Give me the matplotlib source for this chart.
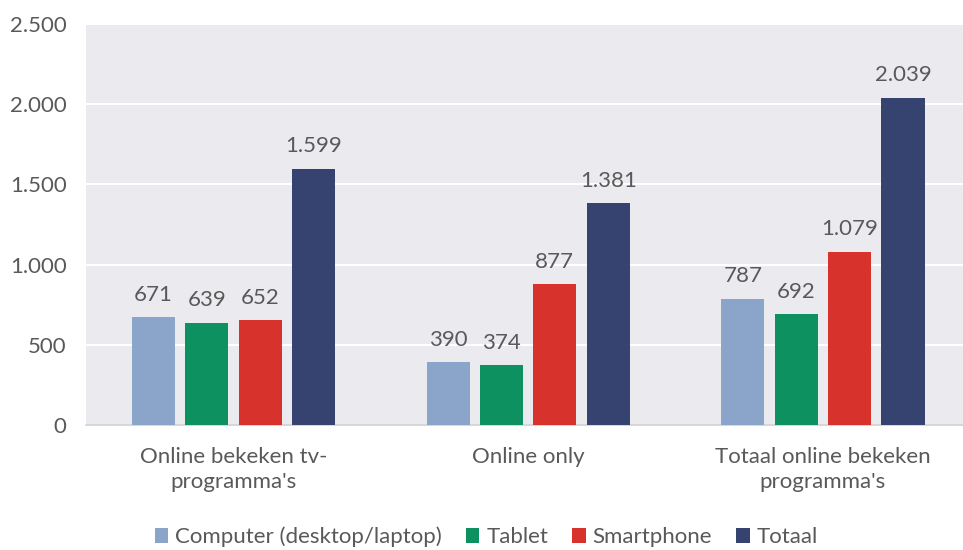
import numpy as np
import matplotlib.pyplot as plt

# =========================
# Data
# =========================
categories = ["Online bekeken tv-\nprogramma's", "Online only", "Totaal online bekeken\nprogramma's"]
series_names = ["Computer (desktop/laptop)", "Tablet", "Smartphone", "Totaal"]
computer = [671, 390, 787]
tablet = [639, 374, 692]
smartphone = [652, 877, 1079]
totaal = [1599, 1381, 2039]
yticks = [0, 500, 1000, 1500, 2000, 2500]
ytick_labels = ["0", "500", "1.000", "1.500", "2.000", "2.500"]

colors = ["#8AA5C9", "#0E9160", "#D8322C", "#364270"]
text_color = "#595959"

plt.rcParams["font.family"] = ["Lato", "DejaVu Sans"]

# =========================
# Figure
# =========================
fig = plt.figure(figsize=(9.63, 5.5), dpi=100)
ax = fig.add_axes([86 / 963, (550 - 425) / 550, (963 - 86) / 963, 401 / 550])
ax.set_facecolor("#EBEBEF")

x = np.arange(len(categories))
width = 0.146
step = 0.181
all_series = [computer, tablet, smartphone, totaal]

for i, (name, vals) in enumerate(zip(series_names, all_series)):
    pos = x + (i - 1.5) * step
    bars = ax.bar(pos, vals, width=width, color=colors[i], label=name, zorder=3)
    for b, v in zip(bars, vals):
        lbl = f"{v:,}".replace(",", ".")
        ax.annotate(lbl, (b.get_x() + b.get_width() / 2, v), xytext=(0, 9),
                    textcoords="offset points", ha="center", va="bottom",
                    fontsize=16, color=text_color)

ax.set_xlim(-0.5, 2.475)
ax.set_ylim(0, 2500)
ax.set_yticks(yticks)
ax.set_yticklabels(ytick_labels)
ax.yaxis.grid(True, color="white", linewidth=1.5, zorder=0)
ax.set_axisbelow(True)

ax.set_xticks(x)
ax.set_xticklabels(categories, linespacing=1.3)
ax.tick_params(axis="both", length=0, labelsize=16, labelcolor=text_color)
ax.tick_params(axis="y", pad=14)
ax.tick_params(axis="x", pad=16)

for s in ["top", "right", "left"]:
    ax.spines[s].set_visible(False)
ax.spines["bottom"].set_color("#D0D0D0")
ax.spines["bottom"].set_linewidth(1.2)

leg = fig.legend(loc="center", bbox_to_anchor=(0.505, 13 / 550), ncol=4,
                 frameon=False, fontsize=16, handlelength=0.6, handleheight=0.6,
                 handletextpad=0.3, columnspacing=1.1)
for t in leg.get_texts():
    t.set_color(text_color)

plt.savefig("out.png", dpi=100)
plt.close()
